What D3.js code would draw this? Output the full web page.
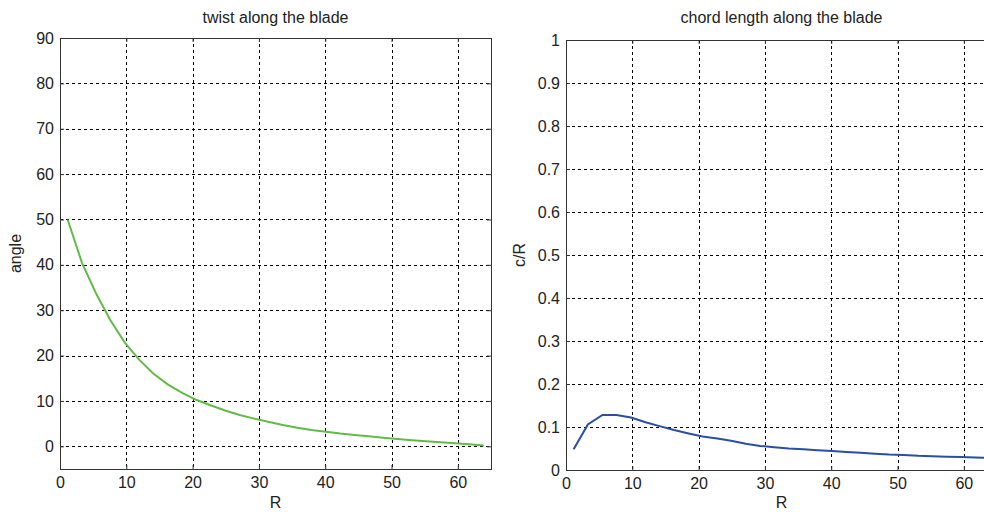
<!DOCTYPE html>
<html>
<head>
<meta charset="utf-8">
<script src="https://cdn.jsdelivr.net/npm/d3@7"></script>
<style>
  body { margin: 0; background: #fff; }
  #visualization text { font-family: "Liberation Sans", Arial, sans-serif; font-size: 16px; fill: #222; }
</style>
</head>
<body>
<div id="visualization"></div>
<script>
// blade stations (radius) and the two distributions
const radius = [1.15, 3.3, 5.5, 7.6, 9.8, 12.0, 14.1, 16.3, 18.5, 20.6, 22.8, 24.9, 27.1, 29.3, 31.4,
                33.6, 35.8, 37.9, 40.1, 42.3, 44.4, 46.6, 48.7, 50.9, 53.1, 55.2, 57.4, 59.6, 61.7, 63.9];
const twist = [50.0, 40.5, 33.5, 27.8, 22.8, 19.0, 16.0, 13.6, 11.7, 10.2, 9.0, 7.9, 6.9, 6.1, 5.4,
               4.7, 4.1, 3.6, 3.2, 2.8, 2.5, 2.2, 1.9, 1.6, 1.35, 1.1, 0.9, 0.7, 0.45, 0.2];
const chord = [0.048, 0.106, 0.128, 0.128, 0.122, 0.111, 0.102, 0.093, 0.085, 0.078, 0.073, 0.068, 0.061, 0.056, 0.053,
               0.050, 0.048, 0.046, 0.044, 0.042, 0.040, 0.038, 0.036, 0.035, 0.033, 0.032, 0.031, 0.030, 0.029, 0.028];

const xTicks = [0, 10, 20, 30, 40, 50, 60];
const twistTicks = [0, 10, 20, 30, 40, 50, 60, 70, 80, 90];
const chordTicks = [0, 0.1, 0.2, 0.3, 0.4, 0.5, 0.6, 0.7, 0.8, 0.9, 1];

document.addEventListener("DOMContentLoaded", function() {
    const svg = d3.select("#visualization")
                  .append("svg")
                  .attr("width", 984)
                  .attr("height", 512);

    drawPanel(svg, {
        box: {left: 60, top: 38, width: 431, height: 431},
        xDomain: [0, 65], yDomain: [-5, 90],
        yTicks: twistTicks, values: twist,
        color: "#62bb46",
        title: "twist along the blade", yLabel: "angle", yLabelX: 21
    });

    drawPanel(svg, {
        box: {left: 566, top: 40, width: 431, height: 430},
        xDomain: [0, 65], yDomain: [0, 1],
        yTicks: chordTicks, values: chord,
        color: "#2a4ea6",
        title: "chord length along the blade", yLabel: "c/R", yLabelX: 525
    });
});

function drawPanel(svg, o) {
    const b = o.box;
    const g = svg.append("g").attr("transform", `translate(${b.left},${b.top})`);

    const x = d3.scaleLinear().domain(o.xDomain).range([0, b.width]);
    const y = d3.scaleLinear().domain(o.yDomain).range([b.height, 0]);

    // dashed grid
    g.append("g").selectAll("line").data(xTicks.filter(d => d > o.xDomain[0])).join("line")
        .attr("x1", d => Math.round(x(d)) + 0.5).attr("x2", d => Math.round(x(d)) + 0.5)
        .attr("y1", 0).attr("y2", b.height)
        .attr("stroke", "#000").attr("stroke-dasharray", "3,3");
    g.append("g").selectAll("line").data(o.yTicks.filter(d => d > o.yDomain[0] && d < o.yDomain[1])).join("line")
        .attr("y1", d => Math.round(y(d)) + 0.5).attr("y2", d => Math.round(y(d)) + 0.5)
        .attr("x1", 0).attr("x2", b.width)
        .attr("stroke", "#000").attr("stroke-dasharray", "3,3");

    const line = d3.line()
        .x((d, i) => x(radius[i]))
        .y(d => y(d));

    g.append("path")
       .datum(o.values)
       .attr("fill", "none")
       .attr("stroke", o.color)
       .attr("stroke-width", 2)
       .attr("d", line);

    // axes with inward ticks on all four sides
    const fmt = d => String(d);
    g.append("g")
       .attr("transform", `translate(0,${b.height})`)
       .call(d3.axisBottom(x).tickValues(xTicks).tickSize(-4).tickSizeOuter(0).tickPadding(8).tickFormat(fmt));
    g.append("g")
       .call(d3.axisLeft(y).tickValues(o.yTicks).tickSize(-4).tickSizeOuter(0).tickPadding(6).tickFormat(fmt));
    g.append("g")
       .call(d3.axisTop(x).tickValues(xTicks).tickSize(-4).tickSizeOuter(0).tickFormat(""));
    g.append("g")
       .attr("transform", `translate(${b.width},0)`)
       .call(d3.axisRight(y).tickValues(o.yTicks).tickSize(-4).tickSizeOuter(0).tickFormat(""));

    g.selectAll(".domain").remove();
    g.selectAll(".tick line").attr("stroke", "#333");
    g.selectAll(".tick text").attr("font-size", null).attr("font-family", null);

    g.append("rect")
       .attr("x", 0.5).attr("y", 0.5)
       .attr("width", b.width).attr("height", b.height)
       .attr("fill", "none")
       .attr("stroke", "#333");

    g.append("text")
       .attr("x", b.width / 2).attr("y", 23 - b.top)
       .attr("text-anchor", "middle")
       .text(o.title);

    g.append("text")
       .attr("x", b.width / 2).attr("y", 508 - b.top)
       .attr("text-anchor", "middle")
       .text("R");

    svg.append("text")
       .attr("transform", `translate(${o.yLabelX},${b.top + b.height / 2}) rotate(-90)`)
       .attr("text-anchor", "middle")
       .text(o.yLabel);
}
</script>
</body>
</html>
